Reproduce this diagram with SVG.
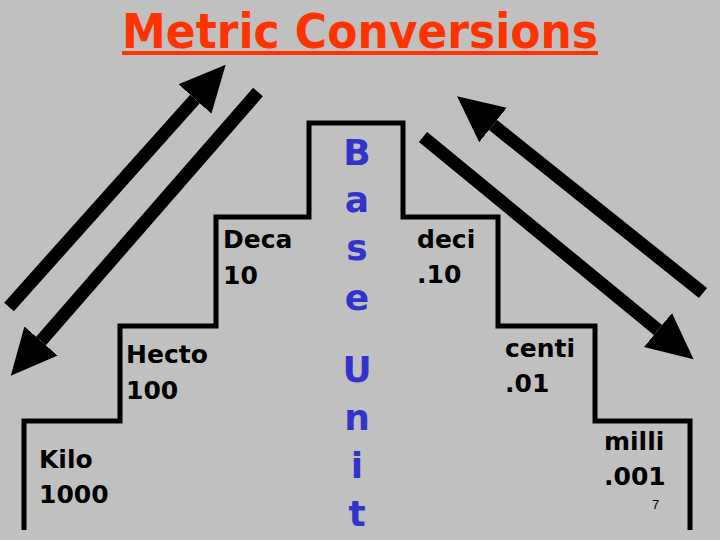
<svg xmlns="http://www.w3.org/2000/svg" width="720" height="540" viewBox="0 0 720 540">
<defs>
<marker id="head" markerUnits="userSpaceOnUse" markerWidth="48" markerHeight="48" viewBox="0 -24 48 48" refX="0" refY="0" orient="auto">
<path d="M0,-22 L46,0 L0,22 Z" fill="#000"/>
</marker>
<style>
.lbl{font-family:"DejaVu Sans","Liberation Sans",sans-serif;font-weight:bold;font-size:25px;fill:#000}
.base{font-family:"DejaVu Sans","Liberation Sans",sans-serif;font-weight:bold;font-size:36px;fill:#3333CC}
.arrow{stroke:#000;stroke-width:13;fill:none;marker-end:url(#head)}
</style>
</defs>
<rect width="720" height="540" fill="#C0C0C0"/>
<g id="title">
<text x="122" y="48" font-family="'DejaVu Sans','Liberation Sans',sans-serif" font-weight="bold" font-size="48" fill="#FF3300" textLength="476" lengthAdjust="spacingAndGlyphs">Metric Conversions</text>
<rect x="122" y="51" width="476" height="4" fill="#FF3300"/>
</g>
<polyline id="staircase" points="24,530 24,421 120,421 120,326 216,326 216,217 309,217 309,123 403,123 403,217 498,217 498,326 595,326 595,421 690,421 690,530" fill="none" stroke="#000" stroke-width="5"/>
<g id="connectors">
<line class="arrow" x1="9" y1="307" x2="195" y2="99"/>
<line class="arrow" x1="258" y1="92" x2="41" y2="341"/>
<line class="arrow" x1="703" y1="293" x2="493" y2="125"/>
<line class="arrow" x1="423" y1="137" x2="658" y2="330"/>
</g>
<g id="kilo"><text class="lbl" x="39" y="468">Kilo</text><text class="lbl" x="39" y="503">1000</text></g>
<g id="hecto"><text class="lbl" x="126" y="363">Hecto</text><text class="lbl" x="126" y="399">100</text></g>
<g id="deca"><text class="lbl" x="223" y="248">Deca</text><text class="lbl" x="223" y="284">10</text></g>
<g id="base-unit">
<text class="base" text-anchor="middle"><tspan x="357" y="165">B</tspan><tspan x="357" y="212">a</tspan><tspan x="357" y="260">s</tspan><tspan x="357" y="310">e</tspan></text>
<text class="base" text-anchor="middle"><tspan x="357" y="382">U</tspan><tspan x="357" y="430">n</tspan><tspan x="357" y="478">i</tspan><tspan x="357" y="526">t</tspan></text>
</g>
<g id="deci"><text class="lbl" x="417" y="248">deci</text><text class="lbl" x="417" y="283">.10</text></g>
<g id="centi"><text class="lbl" x="505" y="357">centi</text><text class="lbl" x="505" y="392">.01</text></g>
<g id="milli"><text class="lbl" x="604" y="450">milli</text><text class="lbl" x="604" y="485">.001</text></g>
<text id="page-number" x="652" y="509" font-family="'Liberation Sans',sans-serif" font-size="13" fill="#000">7</text>
</svg>
